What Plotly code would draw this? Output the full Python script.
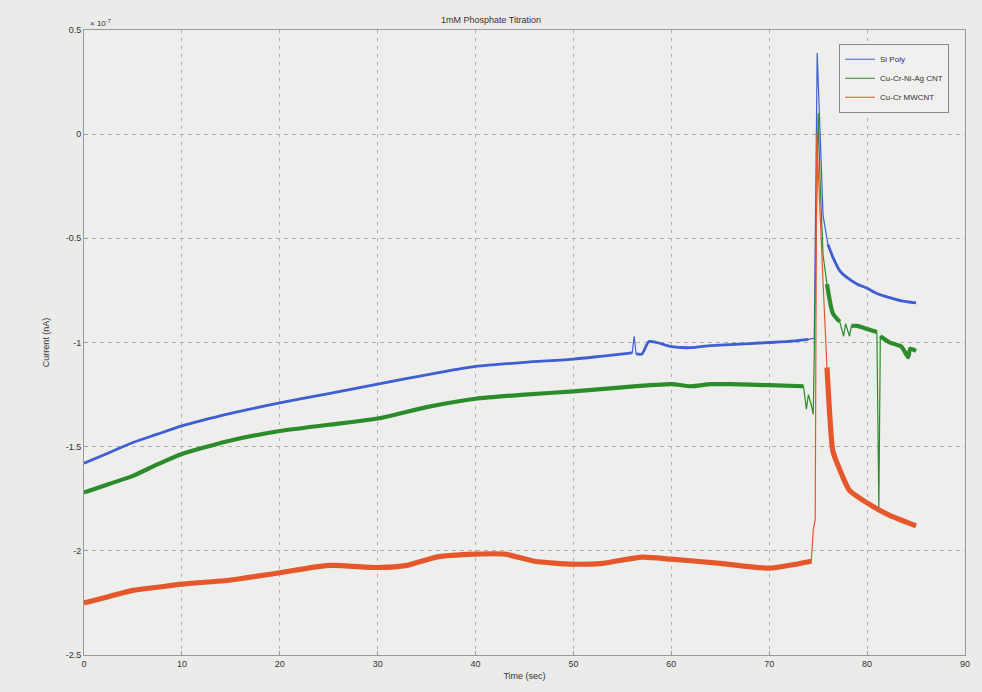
import numpy as np
import plotly.graph_objects as go

# ---- data (current in units of 1e-7) ----
si_t = [0, 2.5, 5, 7.5, 10, 15, 20, 25, 30, 35, 40, 45, 50, 53, 56, 56.2, 56.4, 57,
        57.7, 58.5, 60, 62, 64, 66, 68, 70, 72, 74, 74.6, 74.9, 75.2, 75.5, 76.0,
        76.5, 77.2, 78, 79, 80, 81, 82.3, 83.5, 85]
si_i = [-1.58, -1.53, -1.48, -1.44, -1.40, -1.34, -1.29, -1.245, -1.20, -1.155,
        -1.115, -1.095, -1.08, -1.065, -1.05, -0.97, -1.055, -1.055, -0.995, -1.0,
        -1.02, -1.025, -1.015, -1.01, -1.005, -1.0, -0.995, -0.985, -0.98, 0.39,
        0.01, -0.39, -0.53, -0.59, -0.655, -0.69, -0.72, -0.74, -0.765, -0.785,
        -0.80, -0.81]

cnt_t = [0, 2.5, 5, 7.5, 10, 15, 20, 25, 30, 35, 40, 45, 50, 55, 60, 62, 64, 66,
         70, 73.5, 73.8, 74.0, 74.3, 74.5, 75.0, 75.2, 75.5, 75.9, 76.5, 77.2,
         77.6, 77.8, 78.2, 78.4, 79, 80, 81.0, 81.2, 81.35, 82.3, 83.5, 84.2,
         84.4, 85]
cnt_i = [-1.72, -1.68, -1.64, -1.585, -1.535, -1.47, -1.425, -1.395, -1.365,
         -1.31, -1.27, -1.25, -1.235, -1.215, -1.20, -1.21, -1.20, -1.20, -1.205,
         -1.21, -1.32, -1.25, -1.30, -1.345, 0.10, -0.23, -0.58, -0.72, -0.86,
         -0.90, -0.97, -0.91, -0.97, -0.92, -0.92, -0.935, -0.95, -1.79, -0.97,
         -1.0, -1.02, -1.07, -1.03, -1.04]

mw_t = [0, 2.5, 5, 7.5, 10, 15, 20, 25, 30, 33, 36, 40, 43, 46, 50, 53, 57, 60,
        65, 70, 74.3, 74.5, 74.7, 74.85, 75.3, 75.5, 75.9, 76.2, 76.5, 77.2,
        78.2, 80, 82.3, 85]
mw_i = [-2.25, -2.22, -2.19, -2.175, -2.16, -2.14, -2.105, -2.07, -2.08, -2.07,
        -2.03, -2.016, -2.016, -2.05, -2.064, -2.06, -2.03, -2.04, -2.06, -2.083,
        -2.05, -1.90, -1.85, 0.0, -0.55, -0.71, -1.12, -1.36, -1.52, -1.61,
        -1.71, -1.77, -1.83, -1.88]

x_ticks = [0, 10, 20, 30, 40, 50, 60, 70, 80, 90]
y_ticks = [0.5, 0, -0.5, -1, -1.5, -2, -2.5]
y_labels = ["0.5", "0", "-0.5", "-1", "-1.5", "-2", "-2.5"]

# name, time, current, colour, noise-band width, time windows drawn thin
series = [
    ("Si Poly", si_t, si_i, "#3f5fd2", 2.8, [(74.4, 75.9), (56.1, 56.3)]),
    ("Cu-Cr-Ni-Ag CNT", cnt_t, cnt_i, "#2c8c2c", 4.2, [(73.7, 75.7), (77.5, 77.7), (78.1, 78.3), (81.05, 81.3)]),
    ("Cu-Cr MWCNT", mw_t, mw_i, "#e4582c", 5.2, [(74.4, 75.8)]),
]

fig = go.Figure()
for name, t, cur, color, band, gaps in series:
    t_arr = np.asarray(t, dtype=float)
    band_y = np.asarray(cur, dtype=float).astype(object)
    for a, b in gaps:
        band_y[(t_arr > a) & (t_arr < b)] = None
    # thick trace for the noisy baseline segments
    fig.add_trace(go.Scatter(x=t, y=list(band_y), mode="lines", showlegend=False,
                             connectgaps=False, legendgroup=name, hoverinfo="skip",
                             line=dict(color=color, width=band, shape="spline",
                                       smoothing=0.6)))
    # thin trace for the full recording, incl. the injection spike
    fig.add_trace(go.Scatter(x=t, y=cur, mode="lines", name=name, legendgroup=name,
                             line=dict(color=color, width=1.2)))

axis_font = dict(family="Liberation Sans, Arial, sans-serif", size=10, color="#333333")

fig.update_layout(
    width=982, height=692,
    margin=dict(l=84, r=17, t=30, b=37),
    paper_bgcolor="#ebebea",
    plot_bgcolor="#eeeeed",
    font=axis_font,
    title=dict(text="1mM Phosphate Titration", x=0.5, xanchor="center",
               y=1 - 20 / 692, yanchor="middle",
               font=dict(family="Liberation Sans, Arial, sans-serif", size=9, color="#333333")),
    xaxis=dict(range=[0, 90], tickvals=x_ticks, ticks="inside", ticklen=4,
               tickcolor="#999999", showline=True, linecolor="#9a9a9a", mirror=True,
               showgrid=True, gridcolor="#b0b0b0", griddash="3px,5px", gridwidth=1,
               zeroline=False, tickfont=dict(size=9),
               title=dict(text="Time (sec)", font=dict(size=9), standoff=4)),
    yaxis=dict(range=[-2.5, 0.5], tickvals=y_ticks, ticktext=y_labels, ticks="inside",
               ticklen=4, tickcolor="#999999", showline=True, linecolor="#9a9a9a",
               mirror=True, showgrid=True, gridcolor="#b0b0b0", griddash="4px,4px",
               gridwidth=1, zeroline=False, tickfont=dict(size=9),
               title=dict(text="Current (nA)", font=dict(size=9), standoff=14)),
    legend=dict(x=0.857, y=0.978, xanchor="left", yanchor="top",
                bgcolor="#f0f0ef", bordercolor="#8a8a8a", borderwidth=1,
                font=dict(size=8, color="#333333"), itemwidth=30,
                tracegroupgap=0),
    showlegend=True,
)

# axis exponent label
fig.add_annotation(xref="paper", yref="paper", x=0.004, y=1.0, xanchor="left",
                   yanchor="bottom", showarrow=False,
                   text="× 10<sup>-7</sup>", font=dict(size=8, color="#333333"))

fig.write_html("out.html")
